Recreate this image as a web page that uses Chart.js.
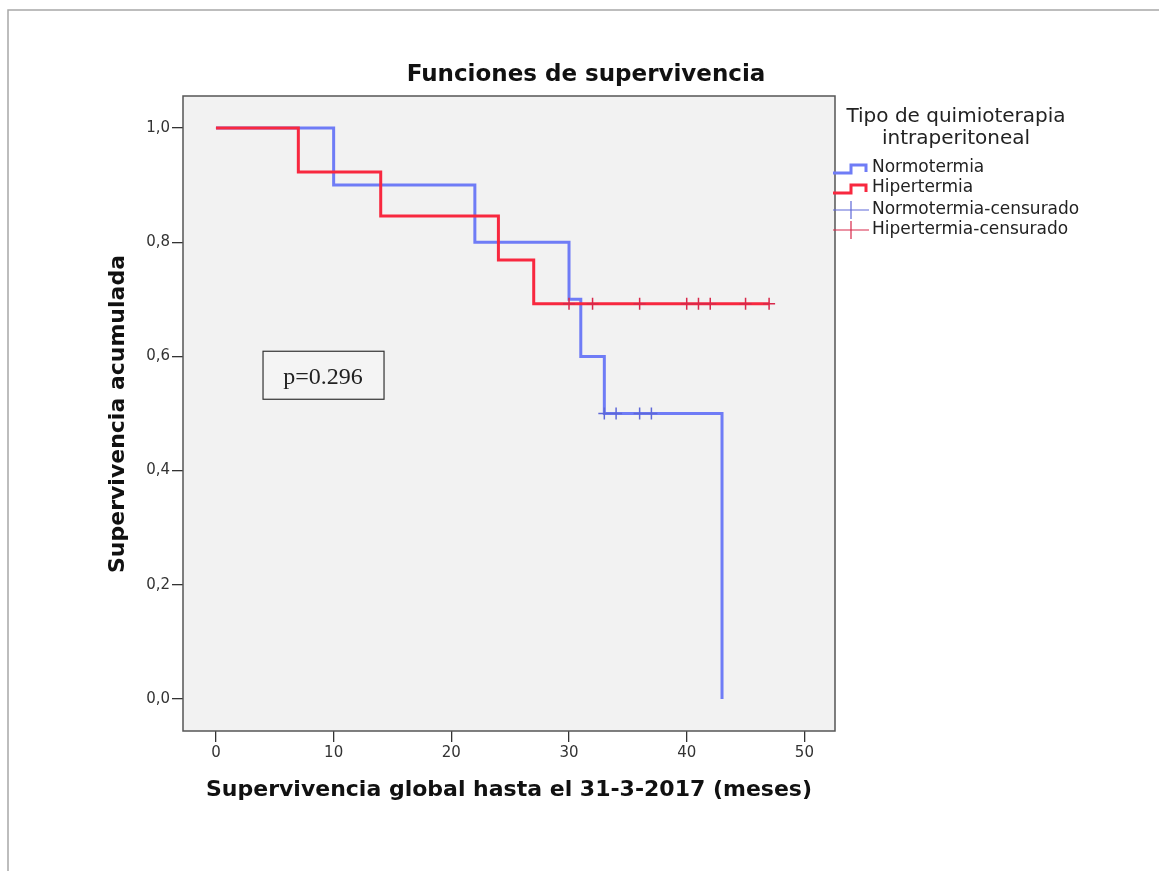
<!DOCTYPE html>
<html>
<head>
<meta charset="utf-8">
<script src="https://cdn.jsdelivr.net/npm/chart.js@4"></script>
<style>
  body { margin: 0; background: #fff; }
  #wrap { width: 1159px; height: 871px; }
</style>
</head>
<body>
<div id="wrap"><canvas id="kmChart" width="1159" height="871"></canvas></div>
<script>
// Kaplan-Meier steps (months, cumulative survival)
const normoTimes = [0, 10, 22, 30, 31, 33, 43];
const normoSurv = [1.0, 0.9, 0.8, 0.7, 0.6, 0.5, 0.0];
const hiperTimes = [0, 7, 14, 24, 27, 47];
const hiperSurv = [1.0, 0.923, 0.846, 0.769, 0.692, 0.692];

// censored cases
const normoCensTimes = [33, 34, 36, 37];
const normoCensSurv = [0.5, 0.5, 0.5, 0.5];
const hiperCensTimes = [30, 32, 36, 40, 41, 42, 45, 47];
const hiperCensSurv = [0.692, 0.692, 0.692, 0.692, 0.692, 0.692, 0.692, 0.692];

const xTicks = [0, 10, 20, 30, 40, 50];
const yTicks = [0, 0.2, 0.4, 0.6, 0.8, 1.0];

const seriesNames = ['Normotermia', 'Hipertermia', 'Normotermia-censurado', 'Hipertermia-censurado'];

const blue = '#6f7cf6';
const red = '#f8283f';
const blueCens = '#5e68d8';
const redCens = '#d8284a';

function toPoints(xs, ys) {
    return xs.map((x, i) => ({ x: x, y: ys[i] }));
}

const decorPlugin = {
    id: 'decor',
    beforeDraw(chart) {
        const ctx = chart.ctx;
        const a = chart.chartArea;
        ctx.save();
        ctx.fillStyle = '#fff';
        ctx.fillRect(0, 0, chart.width, chart.height);
        // outer frame (top and left only)
        ctx.strokeStyle = '#a8a8a8';
        ctx.lineWidth = 1.5;
        ctx.beginPath();
        ctx.moveTo(8, chart.height);
        ctx.lineTo(8, 10);
        ctx.lineTo(chart.width, 10);
        ctx.stroke();
        // plot background
        ctx.fillStyle = '#f2f2f2';
        ctx.fillRect(a.left, a.top, a.right - a.left, a.bottom - a.top);
        ctx.restore();
    },
    afterDraw(chart) {
        const ctx = chart.ctx;
        const a = chart.chartArea;
        const xs = chart.scales.x;
        const ys = chart.scales.y;
        ctx.save();

        // plot frame
        ctx.strokeStyle = '#555';
        ctx.lineWidth = 1.5;
        ctx.strokeRect(a.left, a.top, a.right - a.left, a.bottom - a.top);

        // title
        ctx.fillStyle = '#111';
        ctx.textAlign = 'center';
        ctx.textBaseline = 'middle';
        ctx.font = 'bold 23px "DejaVu Sans"';
        ctx.fillText('Funciones de supervivencia', 586, 75);

        // axis titles
        ctx.font = 'bold 22px "DejaVu Sans"';
        ctx.fillText('Supervivencia global hasta el 31-3-2017 (meses)', 509, 790);
        ctx.save();
        ctx.translate(118, 414);
        ctx.rotate(-Math.PI / 2);
        ctx.fillText('Supervivencia acumulada', 0, 0);
        ctx.restore();

        // p-value box
        const bx = xs.getPixelForValue(4), by = ys.getPixelForValue(0.609);
        ctx.fillStyle = '#f4f4f4';
        ctx.fillRect(bx, by, 121, 48);
        ctx.strokeStyle = '#333';
        ctx.lineWidth = 1.2;
        ctx.strokeRect(bx, by, 121, 48);
        ctx.fillStyle = '#222';
        ctx.font = '24px "Liberation Serif"';
        ctx.fillText('p=0.296', bx + 60, by + 26);

        // legend
        ctx.fillStyle = '#222';
        ctx.font = '20px "DejaVu Sans"';
        ctx.fillText('Tipo de quimioterapia', 956, 117);
        ctx.fillText('intraperitoneal', 956, 139);

        ctx.textAlign = 'left';
        ctx.font = '17px "DejaVu Sans"';
        const rows = [168, 188, 210, 230];
        const cols = [blue, red, blueCens, redCens];
        rows.forEach((ry, i) => {
            ctx.fillStyle = '#222';
            ctx.fillText(seriesNames[i], 872, ry);
            ctx.strokeStyle = cols[i];
            ctx.beginPath();
            if (i < 2) {
                ctx.lineWidth = 3;
                ctx.moveTo(833, ry + 5);
                ctx.lineTo(851, ry + 5);
                ctx.lineTo(851, ry - 3);
                ctx.lineTo(866, ry - 3);
                ctx.lineTo(866, ry + 4);
            } else {
                ctx.lineWidth = 1.2;
                ctx.moveTo(833, ry);
                ctx.lineTo(869, ry);
                ctx.moveTo(851, ry - 9);
                ctx.lineTo(851, ry + 9);
            }
            ctx.stroke();
        });

        ctx.restore();
    }
};

const ctx = document.getElementById('kmChart').getContext('2d');
const kmChart = new Chart(ctx, {
    type: 'scatter',
    data: {
        datasets: [
            {
                label: seriesNames[1],
                data: toPoints(hiperTimes, hiperSurv),
                showLine: true,
                stepped: 'before',
                borderColor: red,
                borderWidth: 3,
                pointRadius: 0,
                order: 1,
            },
            {
                label: seriesNames[0],
                data: toPoints(normoTimes, normoSurv),
                showLine: true,
                stepped: 'before',
                borderColor: blue,
                borderWidth: 3,
                pointRadius: 0,
                order: 2,
            },
            {
                label: seriesNames[3],
                data: toPoints(hiperCensTimes, hiperCensSurv),
                pointStyle: 'cross',
                pointRadius: 6,
                borderColor: redCens,
                borderWidth: 1.5,
                order: 0,
            },
            {
                label: seriesNames[2],
                data: toPoints(normoCensTimes, normoCensSurv),
                pointStyle: 'cross',
                pointRadius: 6,
                borderColor: blueCens,
                borderWidth: 1.5,
                order: 0,
            },
        ],
    },
    options: {
        responsive: false,
        animation: false,
        layout: { padding: { top: 96, right: 324, left: 0, bottom: 0 } },
        plugins: {
            legend: { display: false },
            tooltip: { enabled: false },
        },
        scales: {
            x: {
                type: 'linear',
                min: -2.8,
                max: 52.6,
                afterBuildTicks: (scale) => { scale.ticks = xTicks.map(v => ({ value: v })); },
                afterFit: (scale) => { scale.height = 140; },
                grid: { drawOnChartArea: false, drawTicks: true, tickLength: 11, color: '#333', lineWidth: 1.3 },
                border: { display: false },
                ticks: { color: '#333', padding: 2, font: { family: 'DejaVu Sans', size: 15 } },
            },
            y: {
                type: 'linear',
                min: -0.056,
                max: 1.056,
                afterBuildTicks: (scale) => { scale.ticks = yTicks.map(v => ({ value: v })); },
                afterFit: (scale) => { scale.width = 183; },
                grid: { drawOnChartArea: false, drawTicks: true, tickLength: 11, color: '#333', lineWidth: 1.3 },
                border: { display: false },
                ticks: {
                    color: '#333',
                    padding: 2,
                    font: { family: 'DejaVu Sans', size: 15 },
                    callback: (v) => v.toFixed(1).replace('.', ','),
                },
            },
        },
    },
    plugins: [decorPlugin],
});
</script>
</body>
</html>
